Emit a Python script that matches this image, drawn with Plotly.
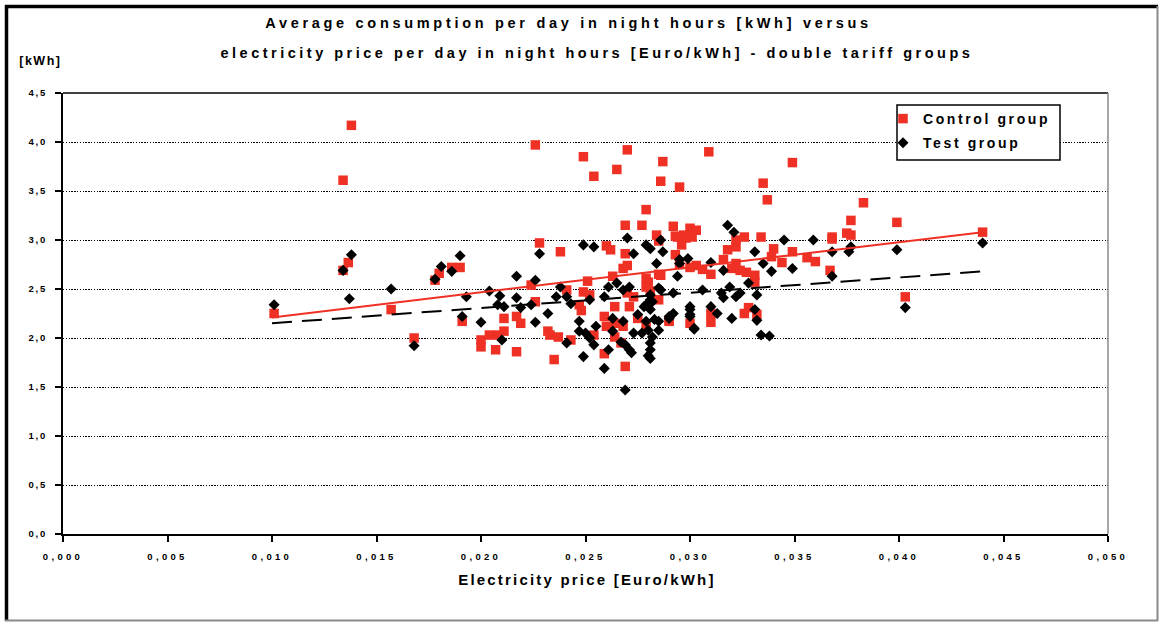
import plotly.graph_objects as go

# ---- data -------------------------------------------------------------
control_price = [
    0.0101, 0.0134, 0.0138, 0.01365, 0.0134, 0.0157, 0.0168, 0.0178, 0.0180, 0.0186,
    0.0190, 0.0191, 0.0200, 0.0200, 0.0204, 0.0208, 0.0211, 0.0207, 0.0217, 0.0211,
    0.0217, 0.0219, 0.0226, 0.0228, 0.0224, 0.0226, 0.0232, 0.0233, 0.0237, 0.0243,
    0.0235, 0.0238, 0.0241, 0.0249, 0.0254, 0.0265, 0.0270, 0.0287, 0.0286, 0.0295,
    0.0309, 0.0349, 0.0335, 0.0337, 0.0383, 0.0377, 0.0399, 0.0279, 0.0269, 0.0277,
    0.0292, 0.0300, 0.0303, 0.0260, 0.0262, 0.0269, 0.0284, 0.0285, 0.0294, 0.0297,
    0.0301, 0.0293, 0.0295, 0.0300, 0.0303, 0.0268, 0.0270, 0.0251, 0.0263, 0.0279,
    0.0280, 0.0285, 0.0249, 0.0252, 0.0247, 0.0248, 0.0264, 0.0270, 0.0273, 0.0271,
    0.0279, 0.0281, 0.0285, 0.0259, 0.0260, 0.0264, 0.0268, 0.0275, 0.0279, 0.0290,
    0.0300, 0.0254, 0.0264, 0.0259, 0.0269, 0.0267, 0.0298, 0.0296, 0.0286, 0.0306,
    0.0310, 0.0316, 0.0318, 0.0322, 0.0322, 0.0326, 0.0322, 0.0320, 0.0324, 0.0327,
    0.0331, 0.0331, 0.0334, 0.0340, 0.0339, 0.0344, 0.0349, 0.0356, 0.0360, 0.0368,
    0.0368, 0.0375, 0.0377, 0.0367, 0.0290, 0.0310, 0.0310, 0.0326, 0.0328, 0.0332,
    0.0440, 0.0403, 0.0293,
]
control_kwh = [
    2.25, 3.61, 4.17, 2.77, 2.69, 2.29, 2.00, 2.59, 2.66, 2.72,
    2.72, 2.17, 1.98, 1.91, 2.03, 2.03, 2.07, 1.88, 1.86, 2.20,
    2.22, 2.15, 3.97, 2.97, 2.54, 2.37, 2.07, 2.03, 2.01, 1.98,
    1.78, 2.88, 2.49, 3.85, 3.65, 3.72, 3.92, 3.80, 3.60, 3.54,
    3.90, 3.79, 3.58, 3.41, 3.38, 3.20, 3.18, 3.31, 3.15, 3.15,
    3.14, 3.12, 3.10, 2.94, 2.90, 2.86, 3.05, 2.99, 3.03, 3.05,
    3.03, 2.85, 2.75, 2.72, 2.74, 2.71, 2.74, 2.58, 2.63, 2.61,
    2.57, 2.65, 2.47, 2.44, 2.34, 2.28, 2.32, 2.46, 2.42, 2.32,
    2.52, 2.48, 2.39, 2.22, 2.12, 2.15, 2.12, 2.20, 2.13, 2.17,
    2.15, 2.03, 2.01, 1.84, 1.71, 1.95, 3.02, 2.95, 2.64, 2.70,
    2.65, 2.80, 2.90, 2.93, 3.00, 3.03, 2.76, 2.71, 2.69, 2.67,
    2.64, 2.57, 3.03, 2.91, 2.83, 2.77, 2.88, 2.82, 2.78, 3.03,
    3.01, 3.07, 3.05, 2.69, 2.18, 2.25, 2.16, 2.25, 2.31, 2.24,
    3.08, 2.42, 3.04,
]

test_price = [
    0.0101, 0.0138, 0.0134, 0.0137, 0.0157, 0.0168, 0.0178, 0.0181, 0.0186, 0.0190,
    0.0193, 0.0191, 0.0204, 0.0209, 0.0217, 0.0217, 0.0208, 0.0211, 0.0219, 0.0224,
    0.0226, 0.0236, 0.0238, 0.0241, 0.0243, 0.0252, 0.0259, 0.0261, 0.0265, 0.0268,
    0.0271, 0.0285, 0.0281, 0.0278, 0.0279, 0.0281, 0.0200, 0.0226, 0.0232, 0.0247,
    0.0255, 0.0263, 0.0268, 0.0275, 0.0279, 0.0285, 0.0290, 0.0300, 0.0300, 0.0302,
    0.0210, 0.0241, 0.0247, 0.0250, 0.0252, 0.0254, 0.0249, 0.0259, 0.0261, 0.0263,
    0.0267, 0.0269, 0.0271, 0.0272, 0.0273, 0.0277, 0.0280, 0.0282, 0.0281, 0.0280,
    0.0285, 0.0269, 0.0228, 0.0249, 0.0254, 0.0270, 0.0273, 0.0279, 0.0281, 0.0286,
    0.0287, 0.0284, 0.0295, 0.0299, 0.0294, 0.0318, 0.0321, 0.0295, 0.0310, 0.0316,
    0.0331, 0.0335, 0.0339, 0.0345, 0.0349, 0.0359, 0.0368, 0.0376, 0.0377, 0.0368,
    0.0399, 0.0286, 0.0292, 0.0306, 0.0315, 0.0316, 0.0319, 0.0322, 0.0324, 0.0328,
    0.0332, 0.0282, 0.0281, 0.0283, 0.0292, 0.0290, 0.0300, 0.0300, 0.0302, 0.0310,
    0.0313, 0.0320, 0.0331, 0.0332, 0.0334, 0.0338, 0.0281, 0.0281, 0.0440, 0.0403,
]
test_kwh = [
    2.34, 2.85, 2.69, 2.40, 2.50, 1.92, 2.60, 2.73, 2.68, 2.84,
    2.42, 2.22, 2.48, 2.43, 2.63, 2.41, 2.34, 2.32, 2.31, 2.34,
    2.59, 2.42, 2.52, 2.42, 2.35, 2.39, 2.42, 2.52, 2.56, 2.49,
    2.52, 2.51, 2.44, 2.32, 2.34, 2.39, 2.16, 2.16, 2.25, 2.17,
    2.12, 2.20, 2.17, 2.24, 2.17, 2.17, 2.22, 2.29, 2.22, 2.09,
    1.98, 1.95, 2.07, 2.05, 2.00, 1.93, 1.81, 1.69, 1.88, 2.07,
    1.96, 1.93, 1.88, 1.85, 2.05, 2.05, 2.08, 2.01, 1.95, 1.82,
    2.08, 1.47, 2.86, 2.95, 2.93, 3.02, 2.86, 2.95, 2.91, 3.00,
    2.88, 2.76, 2.80, 2.81, 2.63, 3.15, 3.08, 2.76, 2.77, 2.69,
    2.88, 2.76, 2.68, 3.00, 2.71, 3.00, 2.88, 2.88, 2.93, 2.63,
    2.90, 2.49, 2.46, 2.49, 2.46, 2.41, 2.52, 2.42, 2.46, 2.56,
    2.44, 2.37, 2.29, 2.19, 2.25, 2.20, 2.32, 2.24, 2.10, 2.32,
    2.25, 2.20, 2.29, 2.18, 2.03, 2.02, 1.88, 1.79, 2.97, 2.31,
]

# linear trend lines (end points)
trend_price = [0.010, 0.044]
control_trend_kwh = [2.21, 3.08]
test_trend_kwh = [2.15, 2.68]

x_tick_vals = [0.000, 0.005, 0.010, 0.015, 0.020, 0.025, 0.030, 0.035, 0.040, 0.045, 0.050]
x_tick_text = ["0,000", "0,005", "0,010", "0,015", "0,020", "0,025",
               "0,030", "0,035", "0,040", "0,045", "0,050"]
y_tick_vals = [0.0, 0.5, 1.0, 1.5, 2.0, 2.5, 3.0, 3.5, 4.0, 4.5]
y_tick_text = ["0,0", "0,5", "1,0", "1,5", "2,0", "2,5", "3,0", "3,5", "4,0", "4,5"]

title_lines = [
    "Average consumption per day in night hours [kWh] versus",
    "electricity price per day in night hours [Euro/kWh] - double tariff groups",
]
x_title = "Electricity price [Euro/kWh]"
y_title = "[kWh]"

# ---- geometry (pixels) -------------------------------------------------
W, H = 1162, 622
PL, PR, PT, PB = 63, 1108, 93, 534     # plot-area edges
PW, PH = PR - PL, PB - PT

def px(x):
    return (x - PL) / PW

def py(y):
    return (PB - y) / PH

FONT = "Liberation Sans, Arial, Helvetica, sans-serif"
RED = "#EE3124"

fig = go.Figure()

fig.add_trace(go.Scatter(
    x=control_price, y=control_kwh, mode="markers", name="Control group",
    legendgroup="control",
    marker=dict(symbol="square", size=9.5, color=RED, line=dict(width=0)),
))
fig.add_trace(go.Scatter(
    x=test_price, y=test_kwh, mode="markers", name="Test group",
    legendgroup="test",
    marker=dict(symbol="diamond", size=8.5, color="black", line=dict(width=0)),
))
fig.add_trace(go.Scatter(
    x=trend_price, y=control_trend_kwh, mode="lines", showlegend=False,
    line=dict(color=RED, width=2),
))
fig.add_trace(go.Scatter(
    x=trend_price, y=test_trend_kwh, mode="lines", showlegend=False,
    line=dict(color="black", width=2, dash="20px,10px"),
))

axis_font = dict(family=FONT, size=9.5, color="black", weight="bold")

fig.update_xaxes(
    range=[0, 0.05], tickvals=x_tick_vals, ticktext=x_tick_text,
    showgrid=False, zeroline=False,
    showline=True, linecolor="black", linewidth=2,
    ticks="outside", ticklen=6, tickwidth=2, tickcolor="black",
    tickfont=axis_font, ticklabelstandoff=7,
)
fig.update_yaxes(
    range=[0, 4.5], tickvals=y_tick_vals, ticktext=y_tick_text,
    showgrid=True, gridcolor="black", gridwidth=1.4, griddash="1.4px,1.4px",
    zeroline=False,
    showline=True, linecolor="black", linewidth=2,
    ticks="outside", ticklen=6, tickwidth=2, tickcolor="black",
    tickfont=axis_font, ticklabelstandoff=6,
)

shapes = [
    # plot-area top and right edges
    dict(type="line", xref="paper", yref="paper", x0=0, x1=1, y0=1, y1=1,
         line=dict(color="black", width=1.5)),
    dict(type="line", xref="paper", yref="paper", x0=1, x1=1, y0=0, y1=1,
         line=dict(color="#8a8a8a", width=1.5)),
    # legend box
    dict(type="rect", xref="paper", yref="paper", layer="above",
         x0=px(897), x1=px(1060), y0=py(160), y1=py(105),
         fillcolor="white", line=dict(color="black", width=1.5)),
    # outer frame
    dict(type="line", xref="paper", yref="paper", x0=px(5), x1=px(1158), y0=py(6.5), y1=py(6.5),
         line=dict(color="black", width=3.5)),
    dict(type="line", xref="paper", yref="paper", x0=px(6.5), x1=px(6.5), y0=py(5), y1=py(621),
         line=dict(color="black", width=3.5)),
    dict(type="line", xref="paper", yref="paper", x0=px(1157.5), x1=px(1157.5), y0=py(6), y1=py(621),
         line=dict(color="#8a8a8a", width=2)),
    dict(type="line", xref="paper", yref="paper", x0=px(5), x1=px(1158), y0=py(620.5), y1=py(620.5),
         line=dict(color="#8a8a8a", width=2)),
]

annotations = [
    dict(text=title_lines[0], xref="paper", yref="paper", x=px(568), y=py(23),
         showarrow=False, xanchor="center", yanchor="middle",
         font=dict(family=FONT, size=14.5, color="black", weight="bold")),
    dict(text=title_lines[1], xref="paper", yref="paper", x=px(597), y=py(53),
         showarrow=False, xanchor="center", yanchor="middle",
         font=dict(family=FONT, size=14.5, color="black", weight="bold")),
    dict(text=x_title, xref="paper", yref="paper", x=px(587), y=py(579),
         showarrow=False, xanchor="center", yanchor="middle",
         font=dict(family=FONT, size=15, color="black", weight="bold")),
    dict(text=y_title, xref="paper", yref="paper", x=px(21), y=py(61),
         showarrow=False, xanchor="left", yanchor="middle",
         font=dict(family=FONT, size=12.5, color="black", weight="bold")),
]

fig.update_layout(
    width=W, height=H,
    margin=dict(l=PL, r=W - PR, t=PT, b=H - PB, pad=0),
    paper_bgcolor="white", plot_bgcolor="white",
    font=dict(family=FONT, color="black"),
    showlegend=True,
    legend=dict(
        x=px(883), y=py(103), xanchor="left", yanchor="top",
        bgcolor="rgba(0,0,0,0)", borderwidth=0,
        font=dict(family=FONT, size=14, color="black", weight="bold"),
        tracegroupgap=3, itemwidth=30,
    ),
    shapes=shapes,
    annotations=annotations,
    hovermode=False,
)

# widen the letter spacing of the chart texts
spacing_css = (
    ".xtick text{letter-spacing:3.3px}"
    ".ytick text{letter-spacing:1.8px}"
    ".legend .scrollbox{clip-path:none}"
    ".legendtext{letter-spacing:2.6px}"
    ".annotation[data-index='0'] text{letter-spacing:3.7px}"
    ".annotation[data-index='1'] text{letter-spacing:3.5px}"
    ".annotation[data-index='2'] text{letter-spacing:2.2px}"
    ".annotation[data-index='3'] text{letter-spacing:1.5px}"
)
post_js = (
    "var st=document.createElement('style');"
    "st.textContent=\"" + spacing_css + "\";"
    "document.head.appendChild(st);"
)

fig.write_html("out.html", config={"displayModeBar": False}, post_script=post_js)
